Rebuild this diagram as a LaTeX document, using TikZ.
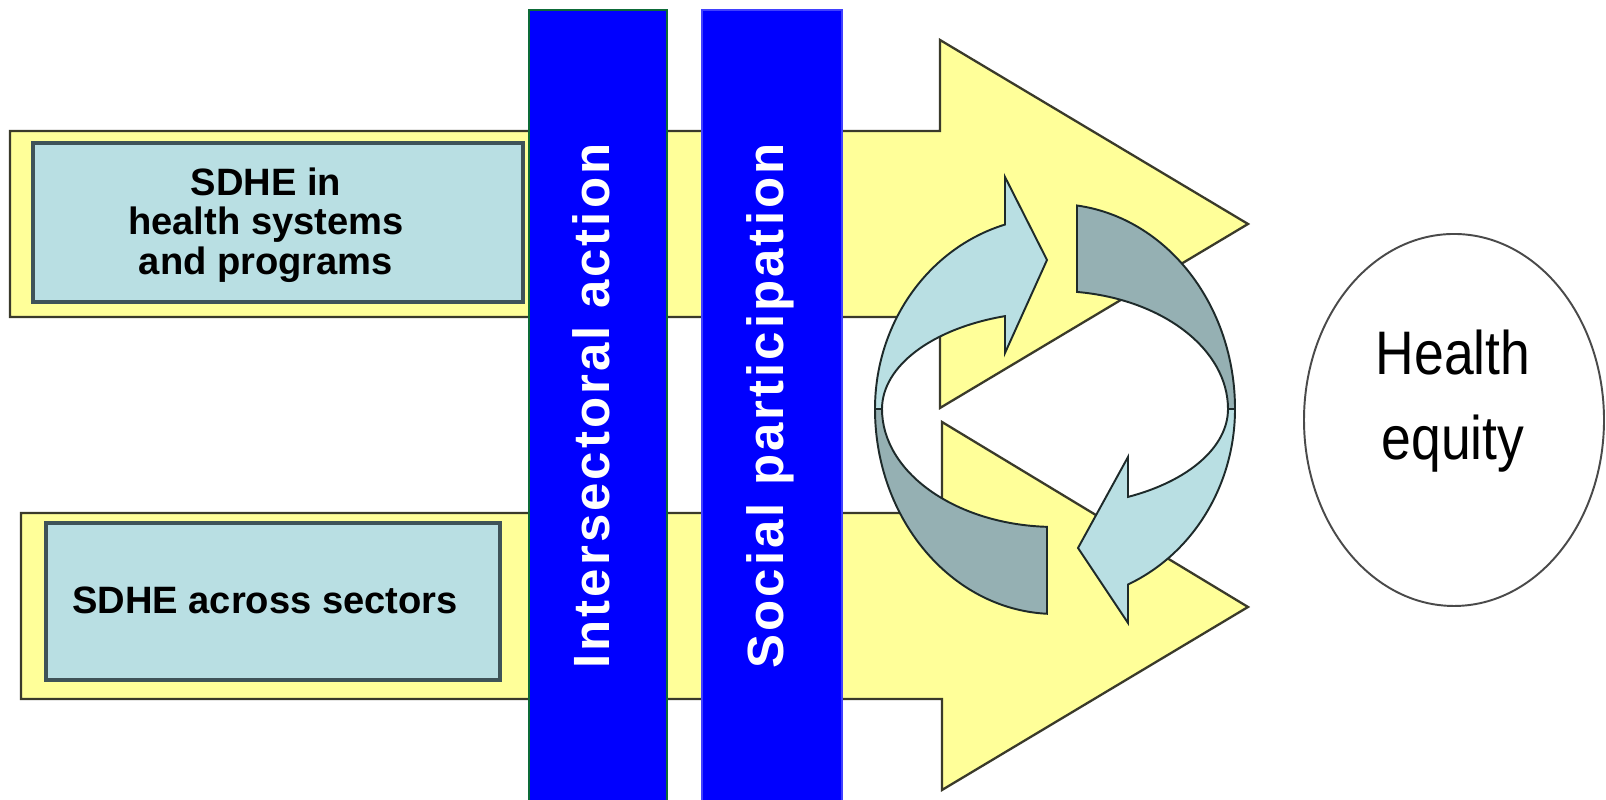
\documentclass[tikz,border=0pt]{standalone}
\usepackage{fontspec}
\setmainfont{Liberation Sans}
\newfontfamily\barfont{Liberation Sans}[LetterSpace=6]
\newfontfamily\eqfont{Liberation Sans}[FakeStretch=0.87]
\usetikzlibrary{calc}
\definecolor{arrowyellow}{HTML}{FFFF99}
\definecolor{edgedark}{HTML}{3A3A2A}
\definecolor{paleblue}{HTML}{B9DFE3}
\definecolor{greyblue}{HTML}{95B0B3}
\definecolor{boxedge}{HTML}{3F5358}
\definecolor{ringedge}{HTML}{1E2A2A}
\definecolor{barblue}{HTML}{0000FF}
\definecolor{baredge}{HTML}{0D6B38}
\definecolor{ovaledge}{HTML}{4A4A4A}

\begin{document}
\begin{tikzpicture}[x=0.1mm, y=0.1mm,
  bigarrow/.style={fill=arrowyellow, draw=edgedark, line width=0.65pt, line join=miter},
  sdhebox/.style={fill=paleblue, draw=boxedge, line width=1pt},
  frontband/.style={fill=paleblue, draw=ringedge, line width=0.55pt, line join=miter},
  backband/.style={fill=greyblue, draw=ringedge, line width=0.55pt},
  barshape/.style={fill=barblue},
  boxtext/.style={font=\bfseries\fontsize{10.85}{11.24}\selectfont, align=center, text=black, inner sep=0pt},
  bartext/.style={font=\barfont\bfseries\fontsize{14.5}{16}\selectfont, text=white, rotate=90, anchor=base, inner sep=0pt},
  eqtext/.style={font=\eqfont\fontsize{17.5}{20}\selectfont, anchor=base, inner sep=0pt},
]
\useasboundingbox (0,0) rectangle (1606,800);
\fill[white] (0,0) rectangle (1606,800);

% the two broad yellow arrows
\draw[bigarrow] (10,669) -- (940,669) -- (940,760) -- (1248,576) -- (940,392) -- (940,483) -- (10,483) -- cycle;
\draw[bigarrow] (21,287) -- (942,287) -- (942,378) -- (1248,193) -- (942,10) -- (942,101) -- (21,101) -- cycle;

% labelled boxes inside the arrows
\draw[sdhebox] (33,498) rectangle (523,657);
\draw[sdhebox] (46,120) rectangle (500,277);
\node[boxtext] (hs) at (266,575) {SDHE in\\health systems\\and programs};
\node[boxtext] (as) at (265,199.5) {SDHE across sectors};

% vertical bars
\draw[barshape, draw=baredge, line width=0.6pt] (529,-5) rectangle (667,790);
\draw[barshape, draw=barblue!75!white, line width=0.4pt] (702,-5) rectangle (842,790);
\node[bartext] (ia) at (609,394) {Intersectoral action};
\node[bartext] (sp) at (783,394) {Social participation};

% cycle of two curved arrows
\coordinate (c) at (1055,391);
% back faces
\draw[backband] ($(c)+(82.98:180 and 205)$) arc[start angle=82.98, end angle=0, x radius=180, y radius=205]
  -- ($(c)+(0:173 and 118)$) arc[start angle=0, end angle=82.69, x radius=173, y radius=118] -- cycle;
\draw[backband] ($(c)+(180:180 and 205)$) arc[start angle=180, end angle=267.45, x radius=180, y radius=205]
  -- ($(c)+(267.35:173 and 118)$) arc[start angle=267.35, end angle=180, x radius=173, y radius=118] -- cycle;
% front faces with heads
\draw[frontband] ($(c)+(180:180 and 192)$) arc[start angle=180, end angle=106.13, x radius=180, y radius=192]
  -- (1005,623) -- (1047,540) -- (1005,447)
  -- ($(c)+(106.8:173 and 97)$) arc[start angle=106.8, end angle=180, x radius=173, y radius=97] -- cycle;
\draw[frontband] ($(c)+(0:180 and 192)$) arc[start angle=0, end angle=-66.07, x radius=180, y radius=192]
  -- (1128,177) -- (1078,252) -- (1128,343)
  -- ($(c)+(-65.04:173 and 97)$) arc[start angle=-65.04, end angle=0, x radius=173, y radius=97] -- cycle;

% goal oval
\draw[draw=ovaledge, line width=0.55pt, fill=white] (1454,380) ellipse[x radius=150, y radius=186];
\node[eqtext] (h1) at (1453,425) {Health};
\node[eqtext] (h2) at (1453,340) {equity};
\end{tikzpicture}
\end{document}
